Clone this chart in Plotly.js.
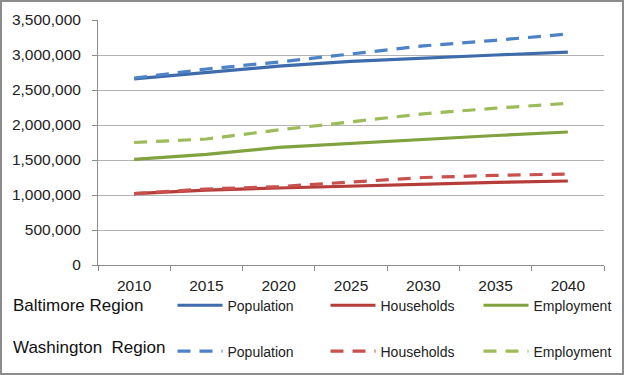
<!DOCTYPE html>
<html>
<head>
<meta charset="utf-8">
<script src="https://cdn.plot.ly/plotly-3.0.1.min.js"></script>
<style>
  html, body { margin: 0; padding: 0; background: #fff; }
  #chart { position: absolute; left: 0; top: 0; width: 620px; height: 371px; border: 2px solid #8c8c8c; }
</style>
</head>
<body>
<div id="chart"></div>
<script>
const years = ['2010', '2015', '2020', '2025', '2030', '2035', '2040'];
const yTickVals = [0, 500000, 1000000, 1500000, 2000000, 2500000, 3000000, 3500000];
const yTickText = ['0', '500,000', '1,000,000', '1,500,000', '2,000,000', '2,500,000', '3,000,000', '3,500,000'];

const baltPopulation = [2660000, 2750000, 2840000, 2910000, 2960000, 3000000, 3040000];
const baltHouseholds = [1020000, 1070000, 1100000, 1130000, 1160000, 1180000, 1200000];
const baltEmployment = [1510000, 1580000, 1680000, 1740000, 1800000, 1850000, 1900000];

const washPopulation = [2670000, 2800000, 2900000, 3020000, 3130000, 3210000, 3300000];
const washHouseholds = [1020000, 1086000, 1120000, 1190000, 1250000, 1280000, 1300000];
const washEmployment = [1750000, 1800000, 1930000, 2050000, 2160000, 2240000, 2310000];

const seriesNames = ['Population', 'Households', 'Employment'];
const regionNames = ['Baltimore Region', 'Washington  Region'];

const solidColors = ['#3d6bab', '#b53c39', '#80a33f'];
const dashColors = ['#4d82c6', '#c8514e', '#9cbc5a'];

const baltData = [baltPopulation, baltHouseholds, baltEmployment];
const washData = [washPopulation, washHouseholds, washEmployment];

// last legend entry in each row gets room for its full text
const entryWidths = [18, 18, 80];

const traces = [];
baltData.forEach((vals, i) => {
  traces.push({
    x: years, y: vals, type: 'scatter', mode: 'lines', name: seriesNames[i],
    line: { color: solidColors[i], width: 3.2 }, legend: 'legend',
    legendwidth: entryWidths[i], hoverinfo: 'skip'
  });
});
washData.forEach((vals, i) => {
  traces.push({
    x: years, y: vals, type: 'scatter', mode: 'lines', name: seriesNames[i],
    line: { color: dashColors[i], width: 3.2, dash: '13px,9px' }, legend: 'legend2',
    legendwidth: entryWidths[i], hoverinfo: 'skip'
  });
});

const FONT = 'Liberation Sans, Arial, sans-serif';

const legendCommon = {
  orientation: 'h', xanchor: 'left', yanchor: 'middle',
  bgcolor: 'rgba(0,0,0,0)', borderwidth: 0,
  font: { family: FONT, size: 14, color: '#222' },
  itemwidth: 45, entrywidthmode: 'pixels', entrywidth: 18,
  indentation: 75,
  itemclick: false, itemdoubleclick: false, traceorder: 'normal'
};

const layout = {
  width: 620, height: 371,
  margin: { l: 96, r: 18, t: 18, b: 108, autoexpand: false },
  paper_bgcolor: '#fff', plot_bgcolor: '#fff',
  font: { family: FONT, color: '#222' },
  showlegend: true,
  xaxis: {
    type: 'category', range: [-0.5, 6.5], showgrid: false,
    ticks: 'outside', tickson: 'boundaries', ticklen: 5, tickcolor: '#8c8c8c', tickwidth: 1,
    showline: true, linecolor: '#8c8c8c', linewidth: 1,
    tickfont: { family: FONT, size: 15.5, color: '#222' }, ticklabelstandoff: 6,
    fixedrange: true
  },
  yaxis: {
    range: [0, 3500000], tickvals: yTickVals, ticktext: yTickText,
    showgrid: true, gridcolor: '#b3b3b3', gridwidth: 1,
    ticks: 'outside', ticklen: 5, tickcolor: '#8c8c8c',
    showline: true, linecolor: '#8c8c8c', linewidth: 1, zeroline: false,
    tickfont: { family: FONT, size: 15.5, color: '#222' }, ticklabelstandoff: 8,
    fixedrange: true
  },
  legend: Object.assign({}, legendCommon, { x: -0.001, y: -0.166 }),
  legend2: Object.assign({}, legendCommon, { x: -0.001, y: -0.353 }),
  annotations: [
    { text: regionNames[0], xref: 'paper', yref: 'paper', x: -0.172, y: -0.167,
      xanchor: 'left', yanchor: 'middle', showarrow: false,
      font: { family: FONT, size: 17, color: '#111' } },
    { text: regionNames[1], xref: 'paper', yref: 'paper', x: -0.172, y: -0.335,
      xanchor: 'left', yanchor: 'middle', showarrow: false,
      font: { family: FONT, size: 17, color: '#111' } }
  ]
};

Plotly.newPlot('chart', traces, layout, { staticPlot: true, displayModeBar: false });
</script>
</body>
</html>
